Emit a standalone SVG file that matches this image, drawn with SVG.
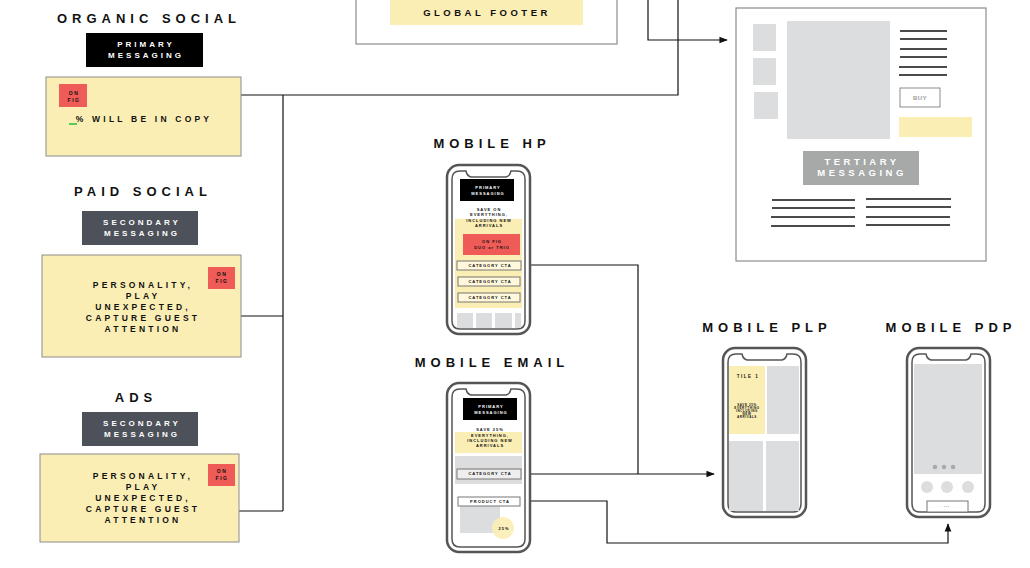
<svg xmlns="http://www.w3.org/2000/svg" width="1030" height="568" viewBox="0 0 1030 568">
<style>
text{font-family:"Liberation Sans",Arial,sans-serif;font-weight:bold;text-anchor:middle;fill:#111}
.t{font-size:13px;letter-spacing:5px}
.m{font-size:9.5px;letter-spacing:3.5px}
.s{font-size:5px;letter-spacing:1.5px}
.xs{font-size:4px;letter-spacing:1px}
.w{fill:#fff}
.y{fill:#fbeeb5}
.yb{fill:#fbeeb5;stroke:#8c8c8c;stroke-width:1}
.r{fill:#ef5b57}
.g{fill:#dcdddf}
.cta{fill:#fff8dc;stroke:#777;stroke-width:1}
.ln{stroke:#111;stroke-width:1.3}
.po{fill:#fff;stroke:#555;stroke-width:2.5}
.pi{fill:none;stroke:#555;stroke-width:1.5}
.c{fill:none;stroke:#111;stroke-width:1.2}
.b{font-size:8.5px;letter-spacing:3.2px}
.k{font-size:8px;letter-spacing:3px}
</style>
<defs>
<marker id="a" viewBox="0 0 10 10" refX="9" refY="5" markerWidth="7" markerHeight="7" orient="auto"><path d="M0,1L10,5L0,9z" fill="#111"/></marker>
<g id="phone">
<rect class="po" x="0" y="0" width="83" height="169" rx="12"/>
<path class="pi" d="M19,6 H13 Q5,6 5,14 V156 Q5,164 13,164 H70 Q78,164 78,156 V14 Q78,6 70,6 H64 Q63,11 59,12 H24 Q20,11 19,6 Z"/>
</g>
</defs>
<rect width="1030" height="568" fill="#fff"/>

<g id="connectors">
<path class="c" d="M648,0 V40 H727" marker-end="url(#a)"/>
<path class="c" d="M678,0 V95 H234"/>
<path class="c" d="M283,95 V511"/>
<path class="c" d="M237,316 H283"/>
<path class="c" d="M237,511 H283"/>
<path class="c" d="M521,265 H638 V474"/>
<path class="c" d="M521,474 H714" marker-end="url(#a)"/>
<path class="c" d="M521,501 H607 V543 H948 V524" marker-end="url(#a)"/>
</g>

<g id="footer-page">
<rect x="356" y="-5" width="261" height="49" fill="#fff" stroke="#8c8c8c" stroke-width="1.2"/>
<rect class="y" x="390" y="0" width="193" height="25"/>
<text class="m" x="487" y="16">GLOBAL FOOTER</text>
</g>

<g id="pdp-desktop">
<rect x="736" y="8" width="250" height="253" fill="#fff" stroke="#8c8c8c" stroke-width="1.2"/>
<rect class="g" x="753" y="24" width="23" height="27"/>
<rect class="g" x="753" y="58" width="23" height="27"/>
<rect class="g" x="754" y="92" width="24" height="27"/>
<rect class="g" x="787" y="21" width="103" height="118"/>
<path class="ln" d="M900,31H947M900,39H947M900,49H947M900,57H947M899,67H947M899,75H947M772,200H855M772,208H855M771,217H855M771,226H855M866,199H951M866,207H951M866,217H950M866,225H950"/>
<rect x="900" y="88" width="40" height="19" fill="#fff" stroke="#8c8c8c" stroke-width="1"/>
<text x="920" y="100" style="font-size:6px;fill:#999;letter-spacing:0.5px">BUY</text>
<rect class="y" x="899" y="117" width="73" height="20"/>
<rect x="803" y="151" width="116" height="34" fill="#a6a9a8"/>
<text class="m w" x="862" y="165">TERTIARY</text>
<text class="m w" x="862" y="176">MESSAGING</text>
</g>

<g id="organic-social">
<text class="t" x="149" y="23">ORGANIC SOCIAL</text>
<rect x="86" y="33" width="117" height="34" fill="#000"/>
<text class="w k" x="146" y="47">PRIMARY</text>
<text class="w k" x="146" y="58">MESSAGING</text>
<rect class="yb" x="46" y="77" width="195" height="79"/>
<rect class="r" x="59" y="84" width="28" height="23"/>
<text class="s" x="74" y="95">ON</text>
<text class="s" x="74" y="102">FIG</text>
<rect x="69" y="123" width="8" height="2" fill="#5c5"/>
<text class="b" x="144" y="122">% WILL BE IN COPY</text>
</g>

<g id="paid-social">
<text class="t" x="143" y="196">PAID SOCIAL</text>
<rect x="82" y="211" width="116" height="34" fill="#4d5159"/>
<text class="w k" x="142" y="225">SECONDARY</text>
<text class="w k" x="142" y="236">MESSAGING</text>
<rect class="yb" x="42" y="255" width="199" height="102"/>
<rect class="r" x="208" y="267" width="27" height="22"/>
<text class="s" x="222" y="276">ON</text>
<text class="s" x="222" y="283">FIG</text>
<text class="b" x="143" y="288">PERSONALITY,</text>
<text class="b" x="143" y="299">PLAY</text>
<text class="b" x="143" y="310">UNEXPECTED,</text>
<text class="b" x="143" y="321">CAPTURE GUEST</text>
<text class="b" x="143" y="332">ATTENTION</text>
</g>

<g id="ads">
<text class="t" x="136" y="402">ADS</text>
<rect x="82" y="412" width="116" height="34" fill="#4d5159"/>
<text class="w k" x="142" y="426">SECONDARY</text>
<text class="w k" x="142" y="437">MESSAGING</text>
<rect class="yb" x="40" y="454" width="199" height="88"/>
<rect class="r" x="208" y="464" width="27" height="22"/>
<text class="s" x="222" y="473">ON</text>
<text class="s" x="222" y="480">FIG</text>
<text class="b" x="143" y="479">PERSONALITY,</text>
<text class="b" x="143" y="490">PLAY</text>
<text class="b" x="143" y="501">UNEXPECTED,</text>
<text class="b" x="143" y="512">CAPTURE GUEST</text>
<text class="b" x="143" y="523">ATTENTION</text>
</g>

<g id="mobile-hp">
<text class="t" x="492" y="148">MOBILE HP</text>
<use href="#phone" x="447" y="165"/>
<rect class="y" x="455" y="219" width="67" height="89"/>
<rect x="460" y="179" width="54" height="22" fill="#000"/>
<text class="xs w" x="488" y="189">PRIMARY</text>
<text class="xs w" x="488" y="195">MESSAGING</text>
<text class="xs" x="489" y="211">SAVE ON</text>
<text class="xs" x="489" y="216">EVERYTHING,</text>
<text class="xs" x="489" y="222">INCLUDING NEW</text>
<text class="xs" x="489" y="227">ARRIVALS</text>
<rect class="r" x="463" y="234" width="57" height="21"/>
<text class="xs" x="492" y="243">ON FIG</text>
<text class="xs" x="492" y="249">DUO or TRIO</text>
<rect class="cta" x="457" y="261" width="64" height="9"/>
<text class="xs" x="490" y="267">CATEGORY CTA</text>
<rect class="cta" x="458" y="277" width="62" height="9"/>
<text class="xs" x="490" y="283">CATEGORY CTA</text>
<rect class="cta" x="458" y="293" width="62" height="9"/>
<text class="xs" x="490" y="299">CATEGORY CTA</text>
<rect class="g" x="457" y="313" width="16" height="15"/>
<rect class="g" x="476" y="313" width="16" height="15"/>
<rect class="g" x="495" y="313" width="17" height="15"/>
<rect class="g" x="515" y="313" width="6" height="15"/>
</g>

<g id="mobile-email">
<text class="t" x="492" y="367">MOBILE EMAIL</text>
<use href="#phone" x="447" y="383"/>
<rect x="463" y="398" width="54" height="22" fill="#000"/>
<text class="xs w" x="491" y="408">PRIMARY</text>
<text class="xs w" x="491" y="414">MESSAGING</text>
<rect class="y" x="455" y="432" width="67" height="21"/>
<text class="xs" x="490" y="431">SAVE 25%</text>
<text class="xs" x="490" y="437">EVERYTHING,</text>
<text class="xs" x="490" y="442">INCLUDING NEW</text>
<text class="xs" x="490" y="447">ARRIVALS</text>
<rect class="g" x="455" y="456" width="67" height="28"/>
<rect class="cta" x="457" y="469" width="64" height="10" style="fill:#eee"/>
<text class="xs" x="490" y="475">CATEGORY CTA</text>
<rect class="g" x="460" y="505" width="40" height="28"/>
<circle cx="503" cy="528" r="11" fill="#fbeeb5" opacity="0.9"/>
<text class="xs" x="504" y="530">25%</text>
<rect class="cta" x="458" y="497" width="62" height="9" style="fill:#fff"/>
<text class="xs" x="490" y="503">PRODUCT CTA</text>
</g>

<g id="mobile-plp">
<text class="t" x="767" y="332">MOBILE PLP</text>
<use href="#phone" x="723" y="348"/>
<rect class="y" x="729" y="366" width="36" height="68"/>
<rect class="g" x="767" y="366" width="32" height="68"/>
<rect class="g" x="729" y="441" width="34" height="70"/>
<rect class="g" x="766" y="441" width="33" height="70"/>
<text x="748" y="378" style="font-size:4.5px;letter-spacing:1.5px">TILE 1</text>
<text x="747" y="406" style="font-size:3px;letter-spacing:0.6px">SAVE 25%</text>
<text x="747" y="409" style="font-size:3px;letter-spacing:0.6px">EVERYTHING</text>
<text x="747" y="412" style="font-size:3px;letter-spacing:0.6px">INCLUDING</text>
<text x="747" y="415" style="font-size:3px;letter-spacing:0.6px">NEW</text>
<text x="747" y="418" style="font-size:3px;letter-spacing:0.6px">ARRIVALS</text>
</g>

<g id="mobile-pdp">
<text class="t" x="951" y="332">MOBILE PDP</text>
<use href="#phone" x="907" y="348"/>
<rect class="g" x="914" y="364" width="68" height="110"/>
<circle cx="935" cy="467" r="2.3" fill="#aaa"/>
<circle cx="944" cy="467" r="2.3" fill="#aaa"/>
<circle cx="953" cy="467" r="2.3" fill="#aaa"/>
<circle class="g" cx="927" cy="487" r="6"/>
<circle class="g" cx="947" cy="487" r="6"/>
<circle class="g" cx="968" cy="487" r="6"/>
<rect x="927" y="501" width="41" height="11" fill="#fff" stroke="#777" stroke-width="1"/>
<text x="947" y="508" style="font-size:3px;fill:#999;letter-spacing:1px">•••</text>
</g>
</svg>
